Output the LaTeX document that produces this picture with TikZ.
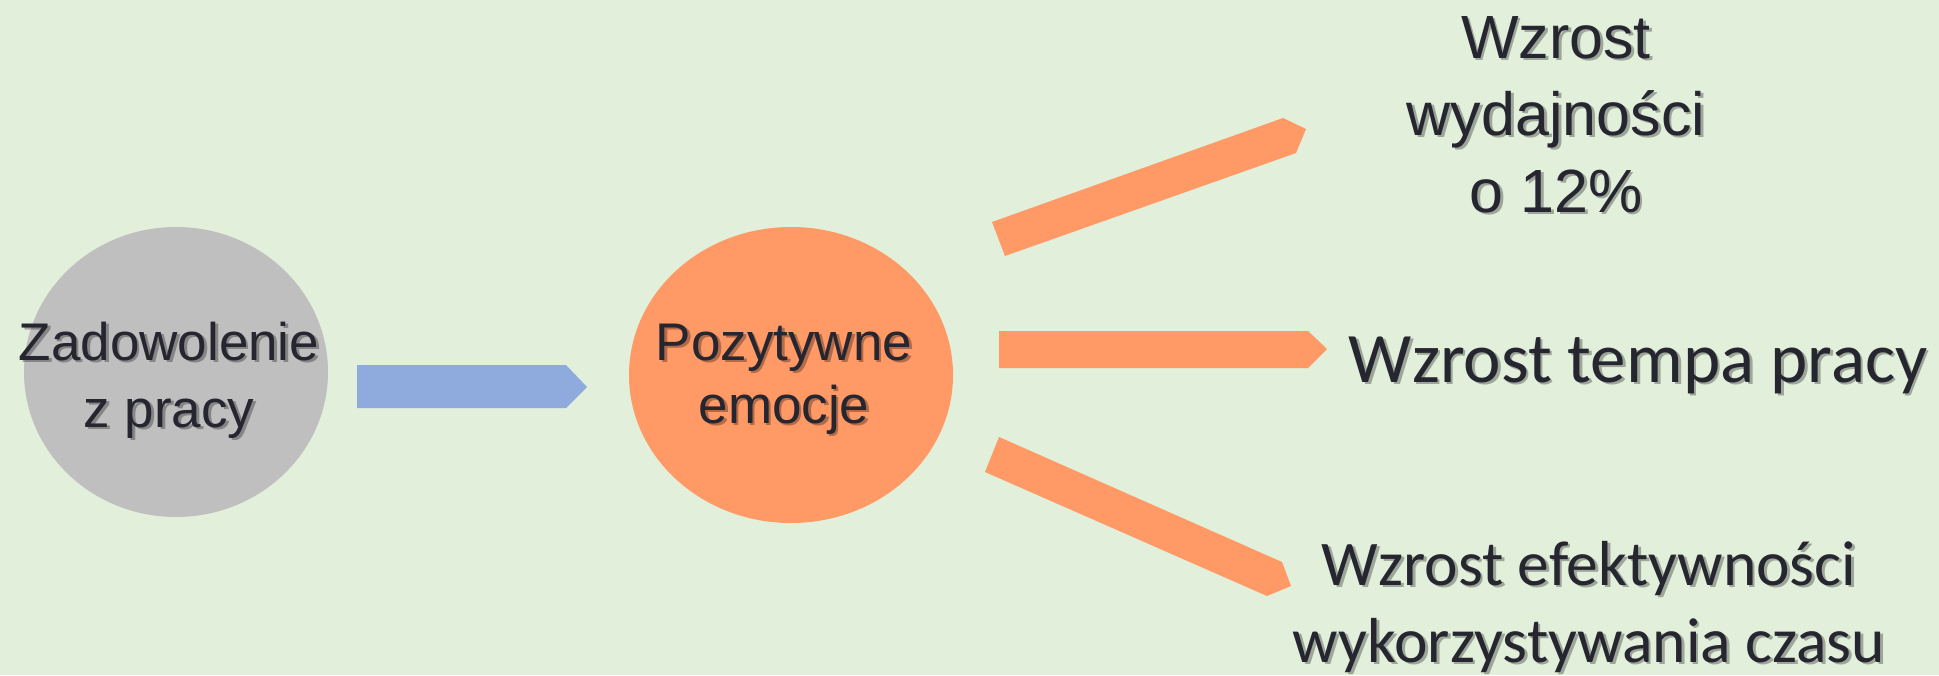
\documentclass[tikz,border=0pt]{standalone}
\usepackage{fontspec}
\setmainfont{Liberation Sans}
\newfontfamily\calfont{Carlito}
\usetikzlibrary{shapes.geometric}
\definecolor{bg}{HTML}{E2EFDA}
\definecolor{grayfill}{HTML}{BFBFBF}
\definecolor{orangefill}{HTML}{FF9966}
\definecolor{bluefill}{HTML}{8FAADC}
\definecolor{txt}{HTML}{262630}
\newcommand\shlabel[4]{%
  \node[lblshadow,font=#3] (#1s) at (#2) {#4};
  \node[lbl,font=#3] (#1) at (#2) {#4};}
\begin{document}
\begin{tikzpicture}[x=0.5pt,y=-0.5pt,
  lbl/.style={align=center,inner sep=0pt,anchor=base,text=txt},
  lblshadow/.style={lbl,text=black,text opacity=0.3,xshift=1.4pt,yshift=-1.4pt},
  blob/.style={ellipse,draw=none,inner sep=0pt},
  blockarrow/.style={draw=none}]
\fill[bg] (0,0) rectangle (1939,675);
\useasboundingbox (0,0) rectangle (1939,675);

\node[blob,fill=grayfill,minimum width=152pt,minimum height=145pt] (zad) at (176,372) {};
\node[blob,fill=orangefill,minimum width=162pt,minimum height=148pt] (poz) at (791,375) {};

% block arrows
\fill[bluefill,blockarrow] (357,365) -- (566,365) -- (587,387) -- (566,408) -- (357,408) -- cycle;
\fill[orangefill,blockarrow] (999,331) -- (1308,331) -- (1327,349) -- (1308,368) -- (999,368) -- cycle;
\fill[orangefill,blockarrow] (992,222) -- (1283,118) -- (1306,129) -- (1296,153) -- (1005,256) -- cycle;
\fill[orangefill,blockarrow] (999,437) -- (1282,562) -- (1291,586) -- (1267,596) -- (985,472) -- cycle;

% base anchor = baseline of the last line
\shlabel{tzad}{169,427}{\fontsize{26.5}{33.5}\selectfont}{Zadowolenie\\z pracy}
\shlabel{tpoz}{784,423}{\fontsize{26.5}{31.5}\selectfont}{Pozytywne\\emocje}
\shlabel{twyd}{1556,212}{\fontsize{30.5}{38.5}\selectfont}{Wzrost\\wydajności\\o 12\%}
\shlabel{ttem}{1638,382}{\calfont\fontsize{35.5}{40}\selectfont}{Wzrost tempa pracy}
\shlabel{tefe}{1589,662}{\calfont\fontsize{31.8}{38.5}\selectfont}{Wzrost efektywności\\wykorzystywania czasu}
\end{tikzpicture}
\end{document}
